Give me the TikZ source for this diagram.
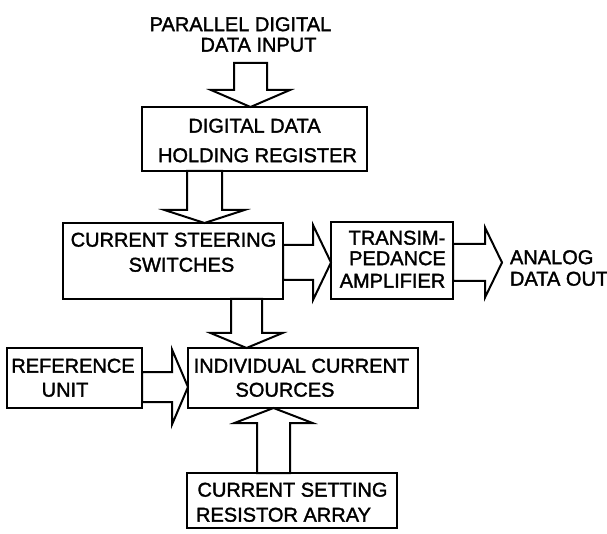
\documentclass[tikz,border=0pt]{standalone}
\usepackage{fontspec}
\setmainfont{Liberation Sans}[FakeBold=1.6]
\usetikzlibrary{calc}

\tikzset{
  blk/.style={draw, line width=2pt, inner sep=0pt, outer sep=0pt},
  lbl/.style={inner sep=0pt, outer sep=0pt, text height=14.3pt, text depth=0pt,
              font=\fontsize{20}{24}\selectfont},
  fat/.style={draw, line width=2pt, line join=miter},
}

% Block arrows: #1 start on the axis, #2 point on the axis where the tip lies,
% #3 half shaft width, #4 half head width, #5 head length
\newcommand\fatdown[5]{%
  \path[fat] let \p1=(#1), \p2=(#2) in
    (\x1-#3,\y1) -- (\x1-#3,\y2+#5) -- (\x1-#4,\y2+#5) -- (\x1,\y2)
    -- (\x1+#4,\y2+#5) -- (\x1+#3,\y2+#5) -- (\x1+#3,\y1) -- cycle;}
\newcommand\fatup[5]{%
  \path[fat] let \p1=(#1), \p2=(#2) in
    (\x1-#3,\y1) -- (\x1-#3,\y2-#5) -- (\x1-#4,\y2-#5) -- (\x1,\y2)
    -- (\x1+#4,\y2-#5) -- (\x1+#3,\y2-#5) -- (\x1+#3,\y1) -- cycle;}
\newcommand\fatright[5]{%
  \path[fat] let \p1=(#1), \p2=(#2) in
    (\x1,\y1+#3) -- (\x2-#5,\y1+#3) -- (\x2-#5,\y1+#4) -- (\x2,\y1)
    -- (\x2-#5,\y1-#4) -- (\x2-#5,\y1-#3) -- (\x1,\y1-#3) -- cycle;}

\begin{document}
\begin{tikzpicture}[x=1pt, y=1pt]
\useasboundingbox (0,0) rectangle (607,533);

% input caption
\node[lbl] (inA) at (240.5,509) {PARALLEL DIGITAL};
\node[lbl] (inB) at (258.5,488.5) {DATA INPUT};

% blocks
\node[blk, minimum width=225pt, minimum height=64pt] (reg) at (254.5,394) {};
\node[lbl] (regA) at (254.5,407.5) {DIGITAL DATA};
\node[lbl] (regB) at (257.5,378) {HOLDING REGISTER};

\node[blk, minimum width=220pt, minimum height=76pt] (sw) at (173,272) {};
\node[lbl] (swA) at (173.5,293.5) {CURRENT STEERING};
\node[lbl] (swB) at (181.5,268.5) {SWITCHES};

\node[blk, minimum width=122pt, minimum height=77pt] (amp) at (392,272.5) {};
\node[lbl] (ampA) at (397,295.5) {TRANSIM-};
\node[lbl] (ampB) at (397.5,275) {PEDANCE};
\node[lbl] (ampC) at (392.5,252.5) {AMPLIFIER};

\node[lbl, anchor=west] (outA) at (510,276) {ANALOG};
\node[lbl, anchor=west] (outB) at (510,254.5) {DATA OUT};

\node[blk, minimum width=135pt, minimum height=60pt] (ref) at (74.5,155) {};
\node[lbl] (refA) at (73,167.5) {REFERENCE};
\node[lbl] (refB) at (65,143.5) {UNIT};

\node[blk, minimum width=230pt, minimum height=60pt] (ics) at (303,155) {};
\node[lbl] (icsA) at (301.5,167.5) {INDIVIDUAL CURRENT};
\node[lbl] (icsB) at (285,143.5) {SOURCES};

\node[blk, minimum width=210pt, minimum height=55pt] (csr) at (292,32.5) {};
\node[lbl] (csrA) at (292.5,43.5) {CURRENT SETTING};
\node[lbl] (csrB) at (283.5,18.5) {RESISTOR ARRAY};

% arrow axes and free ends
\coordinate (inp) at (250.5,470);
\coordinate (ax2) at (204.5,0);
\coordinate (ax3) at (246.5,0);
\coordinate (ax4) at (0,270.5);
\coordinate (ax6) at (0,146);
\coordinate (ax7) at (273.5,0);
\coordinate (out) at (502,270.5);

% block arrows
\fatdown{inp}{reg.north -| inp}{16.5}{39.5}{17}
\fatdown{reg.south -| ax2}{sw.north -| ax2}{17.5}{40}{13}
\fatdown{sw.south -| ax3}{ics.north -| ax3}{15.5}{36}{15}
\fatright{sw.east |- ax4}{amp.west |- ax4}{17.5}{37.5}{18}
\fatright{amp.east |- ax4}{out}{18.5}{35}{17}
\fatright{ref.east |- ax6}{ics.west |- ax6}{15}{37.5}{16}
\fatup{csr.north -| ax7}{ics.south -| ax7}{16.5}{39}{15}
\end{tikzpicture}
\end{document}
